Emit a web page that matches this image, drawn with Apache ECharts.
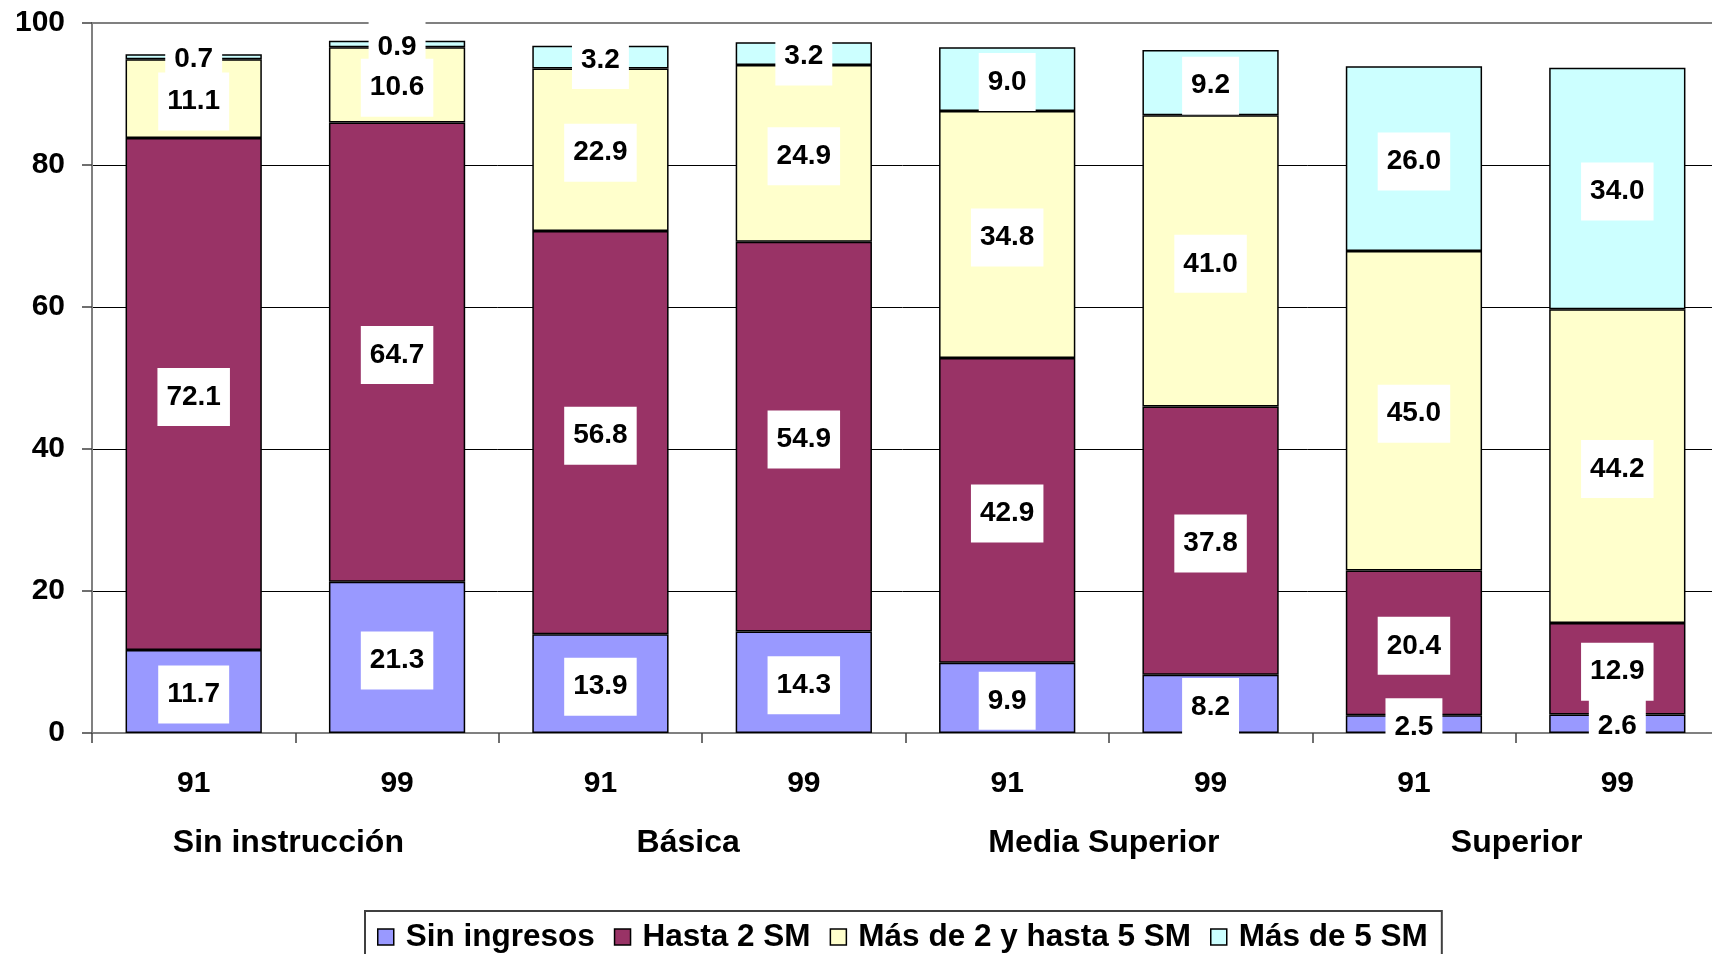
<!DOCTYPE html>
<html>
<head>
<meta charset="utf-8">
<title>Ingresos por nivel de instrucción, 1991 y 1999</title>
<script src="https://cdn.jsdelivr.net/npm/echarts@6/dist/echarts.min.js"></script>
<style>
  html, body { margin: 0; padding: 0; background: #fff; overflow: hidden; }
  #chart { width: 1712px; height: 954px; }
</style>
</head>
<body>
<div id="chart"></div>
<script>
// Years shown under each bar, and the education level spanning each pair of bars
const years = ['91', '99', '91', '99', '91', '99', '91', '99'];
const levels = ['Sin instrucción', 'Básica', 'Media Superior', 'Superior'];

// Income brackets (percent of population)
const sinIngresos = [11.7, 21.3, 13.9, 14.3, 9.9, 8.2, 2.5, 2.6];
const hasta2SM = [72.1, 64.7, 56.8, 54.9, 42.9, 37.8, 20.4, 12.9];
const de2a5SM = [11.1, 10.6, 22.9, 24.9, 34.8, 41.0, 45.0, 44.2];
const mas5SM = [0.7, 0.9, 3.2, 3.2, 9.0, 9.2, 26.0, 34.0];

const seriesNames = ['Sin ingresos', 'Hasta 2 SM', 'Más de 2 y hasta 5 SM', 'Más de 5 SM'];
const seriesColors = ['#9999FF', '#993366', '#FFFFCC', '#CCFFFF'];
const seriesData = [sinIngresos, hasta2SM, de2a5SM, mas5SM];

const FONT = "'Liberation Sans', Arial, sans-serif";

const chart = echarts.init(document.getElementById('chart'), null, { renderer: 'canvas' });

const series = seriesData.map((data, i) => ({
  name: seriesNames[i],
  type: 'bar',
  stack: 'total',
  xAxisIndex: 0,
  yAxisIndex: 0,
  barCategoryGap: '33%',
  data: data,
  itemStyle: {
    color: seriesColors[i],
    borderColor: '#000',
    borderWidth: 1.5
  },
  label: {
    show: true,
    position: 'inside',
    offset: [0, 3],
    formatter: p => p.value.toFixed(1),
    color: '#000',
    fontFamily: FONT,
    fontWeight: 'bold',
    fontSize: 28,
    lineHeight: 28,
    backgroundColor: '#fff',
    padding: [15, 9]
  },
  emphasis: { disabled: true },
  animation: false
}));

// Small horizontal nudges for the level captions (px, negative = left),
// applied as asymmetric padding so each caption stays centered on its own box.
const levelNudge = [-7, -14, -5, 1];
const levelAxisData = levels.map((name, i) => {
  const d = levelNudge[i];
  return {
    value: name,
    textStyle: { padding: d < 0 ? [0, -2 * d, 0, 0] : [0, 0, 0, 2 * d] }
  };
});

chart.setOption({
  animation: false,
  grid: {
    left: 92,
    top: 23,
    width: 1627,
    bottom: 221,
    outerBoundsMode: 'none',
    show: true,
    borderColor: '#808080',
    borderWidth: 2,
    backgroundColor: 'transparent'
  },
  legend: {
    data: seriesNames,
    left: 365,
    top: 911,
    orient: 'horizontal',
    icon: 'rect',
    itemWidth: 16,
    itemHeight: 16,
    itemGap: 19,
    borderColor: '#404040',
    borderWidth: 2,
    padding: [8, 14, 8, 12],
    itemStyle: { borderColor: '#000', borderWidth: 1.5 },
    textStyle: {
      fontFamily: FONT,
      fontWeight: 'bold',
      fontSize: 31.5,
      lineHeight: 36,
      color: '#000',
      padding: [0, 0, 0, 7]
    },
    selectedMode: false
  },
  xAxis: [
    {
      type: 'category',
      data: years,
      position: 'bottom',
      axisLine: { show: true, lineStyle: { color: '#808080', width: 2 } },
      axisTick: { show: true, length: 10, lineStyle: { color: '#404040', width: 1.5 } },
      axisLabel: {
        margin: 36,
        fontFamily: FONT,
        fontWeight: 'bold',
        fontSize: 30,
        color: '#000'
      },
      splitLine: { show: false }
    },
    {
      type: 'category',
      data: levelAxisData,
      position: 'bottom',
      offset: 58,
      axisLine: { show: false },
      axisTick: { show: false },
      axisLabel: {
        margin: 36,
        fontFamily: FONT,
        fontWeight: 'bold',
        fontSize: 32,
        color: '#000'
      },
      splitLine: { show: false }
    }
  ],
  yAxis: {
    type: 'value',
    min: 0,
    max: 100,
    interval: 20,
    axisLine: { show: true, lineStyle: { color: '#808080', width: 2 } },
    axisTick: { show: true, length: 10, lineStyle: { color: '#404040', width: 1.5 } },
    axisLabel: {
      margin: 27,
      fontFamily: FONT,
      fontWeight: 'bold',
      fontSize: 30,
      color: '#000'
    },
    splitLine: {
      show: true,
      lineStyle: { color: ['#000', '#000', '#000', '#000', '#000', '#808080'], width: 1 }
    }
  },
  series: series
});
</script>
</body>
</html>
